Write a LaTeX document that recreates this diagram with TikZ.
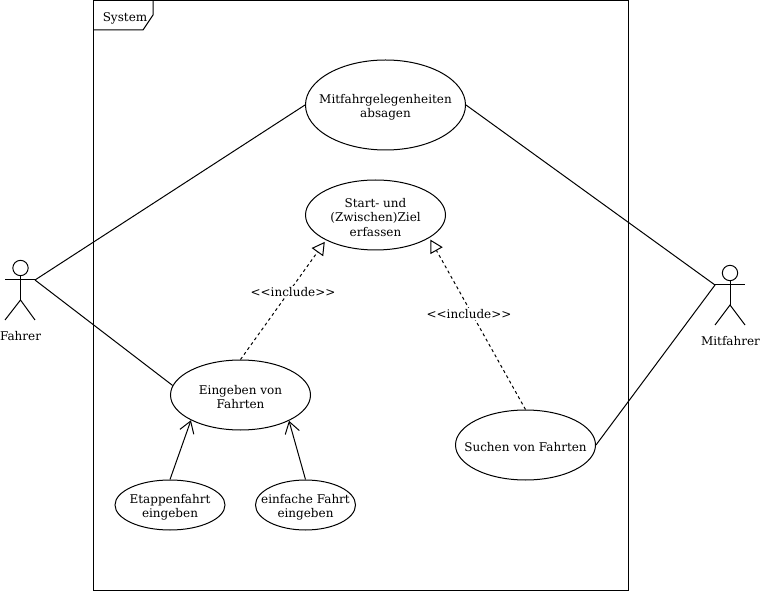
\documentclass[tikz,border=0pt]{standalone}
\usepackage{fontspec}
\setmainfont{DejaVu Serif}
\usetikzlibrary{arrows.meta,shapes.geometric}
\newcommand{\topgap}{\rule{0pt}{10pt}}
\tikzset{
  every node/.style={font=\fontsize{9}{10.9}\selectfont},
  usecase/.style 2 args={draw, ellipse, align=center, inner xsep=-20pt, inner ysep=0pt,
    minimum width=#1*0.75pt, minimum height=#2*0.75pt},
  head/.style={draw, circle, inner sep=0pt, minimum size=11.5pt},
  includelabel/.style={fill=white, inner sep=1pt},
  includeline/.style={dashed, dash pattern=on 2.25pt off 2.25pt, shorten >=1.5pt,
    -{Triangle[open, length=9.5pt, width=10.5pt]}},
  extendline/.style={-{Straight Barb[length=8.5pt, width=11pt]}},
}
\begin{document}
\begin{tikzpicture}[x=0.75pt, y=-0.75pt, line width=0.75pt]
        \useasboundingbox (0,0) rectangle (760,591);
        % system frame
        \draw (93,0.5) rectangle (628,590);
        \draw (93,30) -- (143,30) -- (153,15) -- (153,0.5);
        \node (system) at (125,18) {System};
        % use cases
        \node[usecase={160}{90}] (absagen) at (385.5,105) {\topgap Mitfahrgelegenheiten\\absagen};
        \node[usecase={140}{70}] (ziel) at (375.5,215) {\topgap Start- und\\(Zwischen)Ziel\\erfassen};
        \node[usecase={140}{70}] (eingeben) at (240.5,395) {\topgap Eingeben von\\Fahrten};
        \node[usecase={140}{70}] (suchen) at (525.5,445) {\topgap Suchen von Fahrten};
        \node[usecase={110}{50}] (etappe) at (170,505) {\topgap Etappenfahrt\\eingeben};
        \node[usecase={100}{50}] (einfach) at (305.5,505) {\topgap einfache Fahrt\\eingeben};
        % Fahrer
        \node[head] (fahrerhead) at (20.5,268) {};
        \coordinate (fahrerhip) at (20.5,300);
        \coordinate (fahrerhand) at (35,280);
        \coordinate (fahrerarm) at (5,280);
        \coordinate (fahrerfootl) at (5,320);
        \coordinate (fahrerfootr) at (35,320);
        \draw (fahrerhead.south) -- (fahrerhip);
        \draw (fahrerarm) -- (fahrerhand);
        \draw (fahrerfootl) -- (fahrerhip) -- (fahrerfootr);
        \node (fahrer) at (20.5,336) {Fahrer};
        % Mitfahrer
        \node[head] (mitfahrerhead) at (730,273) {};
        \coordinate (mitfahrerhip) at (730,305);
        \coordinate (mitfahrerhand) at (715,285);
        \coordinate (mitfahrerarm) at (745,285);
        \coordinate (mitfahrerfootl) at (715,325);
        \coordinate (mitfahrerfootr) at (745,325);
        \draw (mitfahrerhead.south) -- (mitfahrerhip);
        \draw (mitfahrerhand) -- (mitfahrerarm);
        \draw (mitfahrerfootl) -- (mitfahrerhip) -- (mitfahrerfootr);
        \node (mitfahrer) at (730.5,341) {Mitfahrer};
        % connectors
        \draw (fahrerhand) -- (absagen.west);
        \draw (fahrerhand) -- (eingeben.172);
        \draw (mitfahrerhand) -- (absagen.east);
        \draw (mitfahrerhand) -- (suchen.east);
        \draw[includeline] (eingeben.north) -- (ziel.207);
        \draw[includeline] (suchen.north) -- (ziel.337);
        \draw[extendline] (etappe.north) -- (eingeben.207);
        \draw[extendline] (einfach.north) -- (eingeben.332);
        \node[includelabel] (includea) at (293,292) {<{}<include>{}>};
        \node[includelabel] (includeb) at (469,314) {<{}<include>{}>};
      \end{tikzpicture}
\end{document}
